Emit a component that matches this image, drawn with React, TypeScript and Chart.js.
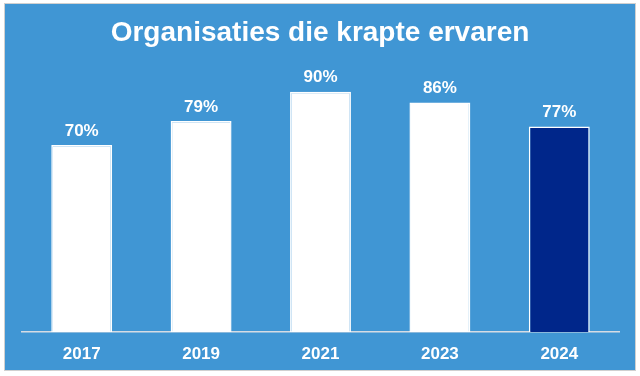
import React, { useEffect, useRef } from "react";
import { Chart, registerables } from "chart.js";

Chart.register(...registerables);

const title = "Organisaties die krapte ervaren";
const categories = ["2017", "2019", "2021", "2023", "2024"];
const values = [70, 79, 90, 86, 77];
const barColors = ["#FFFFFF", "#FFFFFF", "#FFFFFF", "#FFFFFF", "#00268A"];

const BG = "#4096D4";

export default function App() {
  const ref = useRef<HTMLCanvasElement | null>(null);

  useEffect(() => {
    document.body.style.margin = "0";
    const canvas = ref.current;
    if (!canvas) return;

    const titlePlugin = {
      id: "customTitle",
      afterDraw(chart: any) {
        const ctx = chart.ctx;
        ctx.save();
        ctx.fillStyle = "#FFFFFF";
        ctx.font = "bold 28px 'Liberation Sans', Arial, sans-serif";
        ctx.textAlign = "center";
        ctx.textBaseline = "middle";
        ctx.fillText(title, 320, 33);
        ctx.restore();
      },
    };

    const valueLabels = {
      id: "valueLabels",
      afterDatasetsDraw(chart: any) {
        const ctx = chart.ctx;
        const meta = chart.getDatasetMeta(0);
        ctx.save();
        ctx.fillStyle = "#FFFFFF";
        ctx.font = "bold 17px 'Liberation Sans', Arial, sans-serif";
        ctx.textAlign = "center";
        ctx.textBaseline = "middle";
        meta.data.forEach((bar: any, i: number) => {
          ctx.fillText(values[i] + "%", bar.x, bar.y - 14);
        });
        ctx.restore();
      },
    };

    const chart = new Chart(canvas, {
      type: "bar",
      data: {
        labels: categories,
        datasets: [
          {
            data: values,
            backgroundColor: barColors,
            borderColor: "#FFFFFF",
            borderWidth: 1.5,
            categoryPercentage: 1,
            barPercentage: 0.51,
          },
        ],
      },
      options: {
        responsive: false,
        animation: false,
        layout: { padding: { left: 22, right: 21, top: 65, bottom: 0 } },
        plugins: {
          legend: { display: false },
          title: { display: false },
          tooltip: { enabled: false },
        },
        scales: {
          y: { display: false, min: 0, max: 100 },
          x: {
            grid: { display: false, drawTicks: false },
            border: { display: true, color: "#D6DCE4", width: 1.5 },
            ticks: {
              color: "#FFFFFF",
              padding: 12,
              font: { family: "'Liberation Sans', Arial, sans-serif", size: 17, weight: "bold" },
            },
            afterFit(scale: any) {
              scale.height = 44;
            },
          },
        },
      },
      plugins: [titlePlugin, valueLabels],
    });

    return () => chart.destroy();
  }, []);

  return (
    <div style={{ position: "relative", width: 640, height: 376, background: "#FFFFFF" }}>
      <div
        style={{
          position: "absolute",
          left: 4,
          top: 3,
          width: 630,
          height: 366,
          background: BG,
          border: "1px solid #D0D0D0",
        }}
      />
      <canvas ref={ref} width={640} height={376} style={{ position: "absolute", left: 0, top: 0 }} />
    </div>
  );
}
